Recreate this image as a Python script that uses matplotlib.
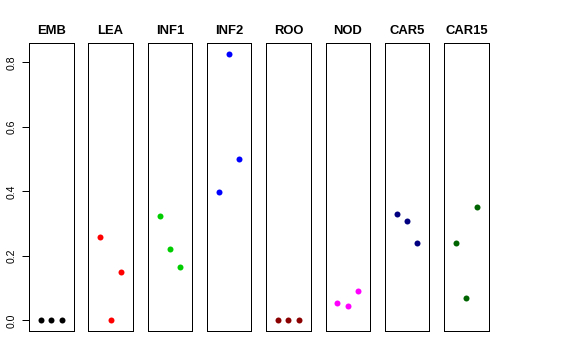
import matplotlib
matplotlib.use("Agg")
import matplotlib.pyplot as plt

plt.rcParams['font.family'] = ['Liberation Sans', 'DejaVu Sans']

groups = ['EMB', 'LEA', 'INF1', 'INF2', 'ROO', 'NOD', 'CAR5', 'CAR15']
emb = [0.0, 0.0, 0.0]
lea = [0.258, 0.0, 0.150]
inf1 = [0.322, 0.220, 0.164]
inf2 = [0.398, 0.826, 0.500]
roo = [0.0, 0.0, 0.0]
nod = [0.054, 0.045, 0.092]
car5 = [0.330, 0.309, 0.241]
car15 = [0.241, 0.068, 0.353]
values = [emb, lea, inf1, inf2, roo, nod, car5, car15]
colors = ['black', 'red', '#00CD00', 'blue', '#8B0000', 'magenta', '#000080', '#006400']
reps = [1, 2, 3]
yticks = [0.0, 0.2, 0.4, 0.6, 0.8]

W, H = 576, 360
fig = plt.figure(figsize=(W / 72, H / 72), dpi=72)

ymax = max(max(v) for v in values)
ypad = 0.04 * ymax
left0, step, width = 29.0, 59.3, 44.5
top, bottom = 43.3, 331.0

for i, (name, vals, col) in enumerate(zip(groups, values, colors)):
    ax = fig.add_axes([(left0 + i * step) / W, (H - bottom) / H,
                       width / W, (bottom - top) / H])
    ax.scatter(reps, vals, s=36, color=col, zorder=3, linewidths=0)
    ax.set_xlim(-0.16, 4.16)
    ax.set_ylim(-ypad, ymax + ypad)
    ax.set_xticks([])
    for sp in ax.spines.values():
        sp.set_color('black')
        sp.set_linewidth(1.0)
    ax.set_title(name, fontsize=13, fontweight='bold', pad=9)
    if i == 0:
        ax.set_yticks(yticks)
        ax.set_yticklabels([f'{t:.1f}' for t in yticks], rotation=90, va='center', fontsize=10.5)
        ax.tick_params(axis='y', length=7, width=1, pad=5)
    else:
        ax.set_yticks([])

fig.savefig('out.png', dpi=72)
